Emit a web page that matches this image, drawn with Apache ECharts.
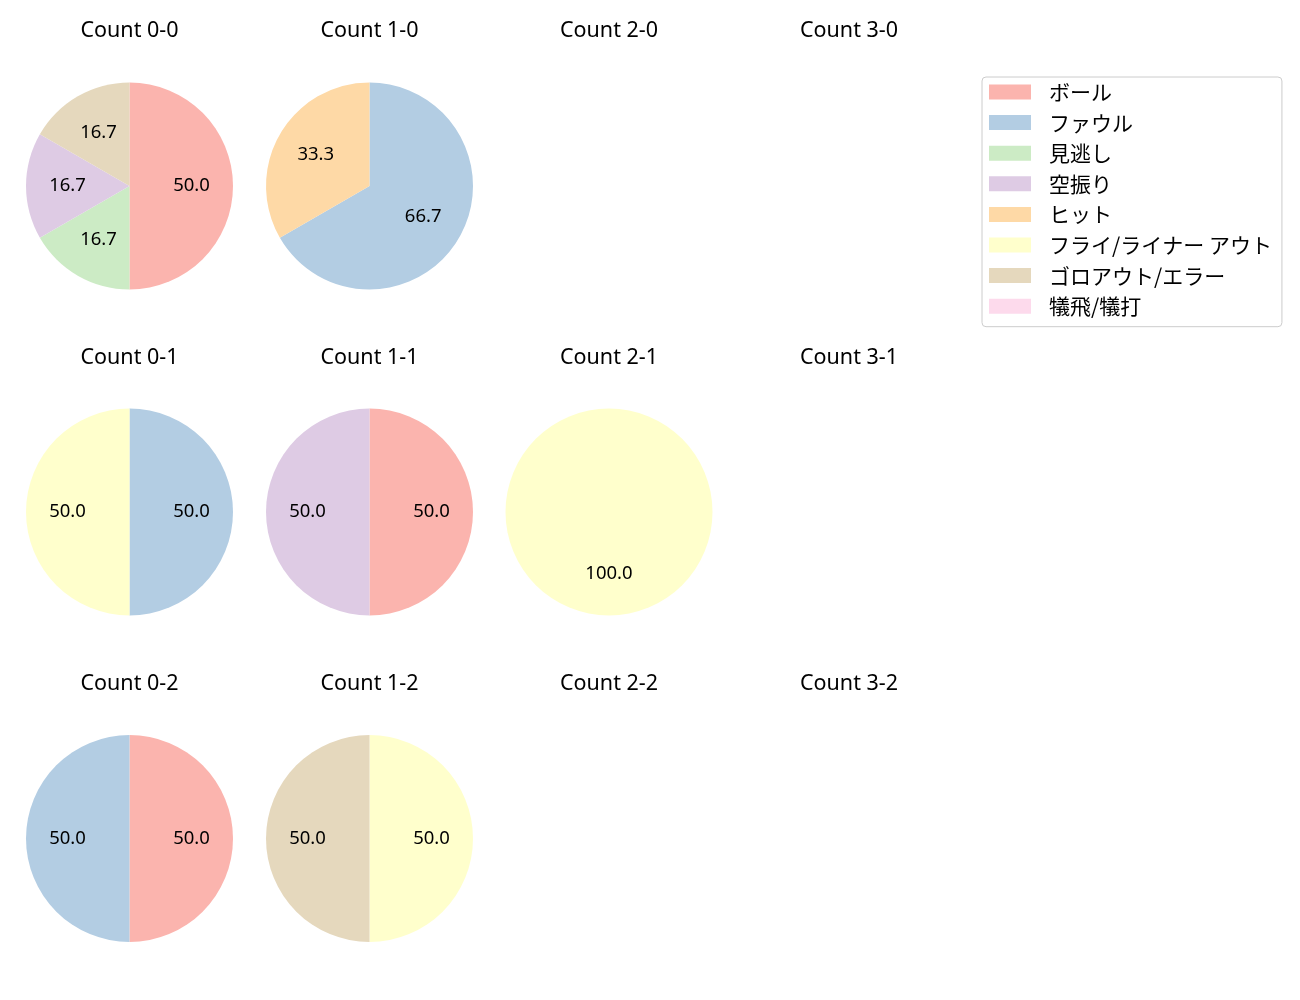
<!DOCTYPE html>
<html><head><meta charset="utf-8">
<script src="https://cdn.jsdelivr.net/npm/echarts@6/dist/echarts.min.js"></script>
<style>html,body{margin:0;padding:0;background:#fff}#c{width:1300px;height:1000px}</style>
</head><body><div id="c"></div>
<script>
const categories = ['ボール','ファウル','見逃し','空振り','ヒット','フライ/ライナー アウト','ゴロアウト/エラー','犠飛/犠打'];
const colors = ['#fbb4ae','#b3cde3','#ccebc5','#decbe4','#fed9a6','#ffffcc','#e5d8bd','#fddaec'];
const countTitles = [
  ['Count 0-0','Count 1-0','Count 2-0','Count 3-0'],
  ['Count 0-1','Count 1-1','Count 2-1','Count 3-1'],
  ['Count 0-2','Count 1-2','Count 2-2','Count 3-2']
];
// values per category order
const count00 = [3,0,1,1,0,0,1,0];
const count10 = [0,2,0,0,1,0,0,0];
const count01 = [0,1,0,0,0,1,0,0];
const count11 = [1,0,0,1,0,0,0,0];
const count21 = [0,0,0,0,0,1,0,0];
const count02 = [1,1,0,0,0,0,0,0];
const count12 = [0,0,0,0,0,1,1,0];
const pies = [
  {row:0,col:0,vals:count00},
  {row:0,col:1,vals:count10},
  {row:1,col:0,vals:count01},
  {row:1,col:1,vals:count11},
  {row:1,col:2,vals:count21},
  {row:2,col:0,vals:count02},
  {row:2,col:1,vals:count12}
];

const colX = [129.5, 369.5, 609, 849];
const rowY = [186, 512, 838.5];
const titleY = [28, 355, 681];
const R = 103.5;
const LATIN = '"Noto Sans", "Noto Sans CJK JP", sans-serif';
const CJK = '"Noto Sans CJK JP", "Noto Sans", sans-serif';

const titles = [];
countTitles.forEach((row, r) => row.forEach((t, c) => {
  titles.push({text: t, left: colX[c], top: titleY[r] - 8, textAlign: 'center', padding: 0,
    textStyle: {fontSize: 21.5, fontWeight: 'normal', color: '#000', fontFamily: LATIN}});
}));

function dataFor(vals, hidden) {
  return vals.map((v, i) => ({name: categories[i], value: v,
    itemStyle: {color: hidden ? 'rgba(0,0,0,0)' : colors[i]}}))
    .filter(d => d.value > 0);
}

const series = [];
pies.forEach(p => {
  series.push({type: 'pie', center: [colX[p.col], rowY[p.row]], radius: [0, R],
    startAngle: 90, clockwise: true, label: {show: false}, labelLine: {show: false},
    silent: true, animation: false, data: dataFor(p.vals, false)});
});
// legend source: all categories (placed off-canvas)
series.push({type: 'pie', center: [-500, -500], radius: [0, 1], label: {show: false}, silent: true,
  animation: false,
  data: categories.map((n, i) => ({name: n, value: 1, itemStyle: {color: colors[i]}}))});
// label series at ~0.6R
pies.forEach(p => {
  series.push({type: 'pie', center: [colX[p.col], rowY[p.row]], radius: [0, 118],
    startAngle: 90, clockwise: true, silent: true, animation: false,
    label: {show: true, position: 'inside', fontSize: 18.5, color: '#000', fontFamily: LATIN,
      formatter: d => d.percent.toFixed(1)},
    labelLine: {show: false},
    data: dataFor(p.vals, true)});
});

const chart = echarts.init(document.getElementById('c'), null, {renderer: 'canvas'});
chart.setOption({
  animation: false,
  title: titles,
  legend: {orient: 'vertical', left: 982, top: 77, data: categories,
    icon: 'rect', itemWidth: 42, itemHeight: 15, itemGap: 9.6,
    padding: [4.5, 10, 10, 7], borderColor: '#cccccc', borderWidth: 1, borderRadius: 4,
    selectedMode: false,
    textStyle: {fontSize: 21, color: '#000', fontFamily: CJK, padding: [0,0,0,13]}},
  series: series
});
</script></body></html>
